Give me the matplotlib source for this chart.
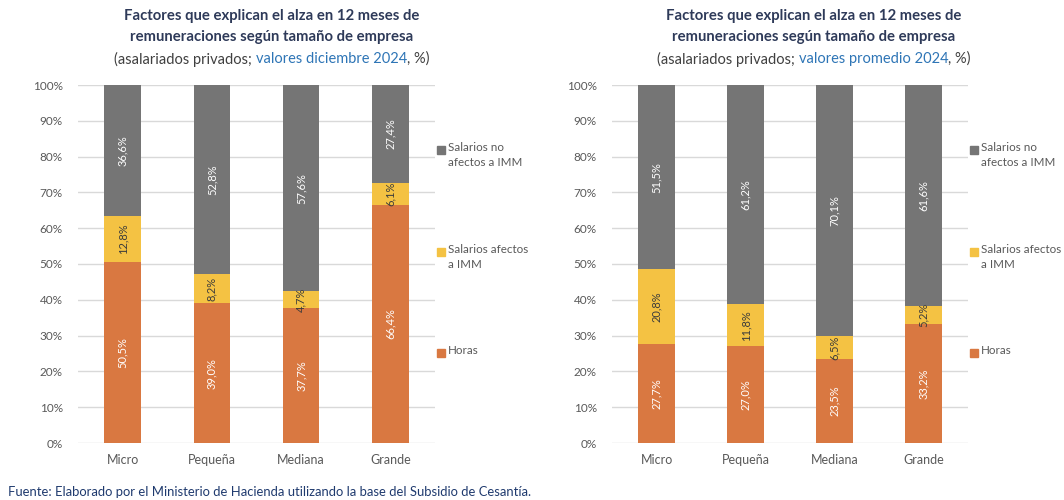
import numpy as np
import matplotlib.pyplot as plt
from matplotlib.patches import Rectangle

# datos
categorias = ['Micro', 'Pequeña', 'Mediana', 'Grande']
series = ['Horas', 'Salarios afectos\na IMM', 'Salarios no\nafectos a IMM']

horas_dic = [50.5, 39.0, 37.7, 66.4]
afectos_dic = [12.8, 8.2, 4.7, 6.1]
no_afectos_dic = [36.6, 52.8, 57.6, 27.4]

horas_prom = [27.7, 27.0, 23.5, 33.2]
afectos_prom = [20.8, 11.8, 6.5, 5.2]
no_afectos_prom = [51.5, 61.2, 70.1, 61.6]

yticks = [0, 10, 20, 30, 40, 50, 60, 70, 80, 90, 100]

colores = ['#D97841', '#F4C243', '#757575']
color_txt_lbl = ['white', '#3B3B3B', 'white']
gris = '#595959'
titulo_color = '#2E3A59'
azul = '#2E75B6'

plt.rcParams['font.family'] = ['Lato', 'DejaVu Sans']

fig = plt.figure(figsize=(10.64, 5.0), dpi=100)


def px(x, y):
    return x / 1064, 1 - y / 500


def barras(ax, datos):
    datos = np.array(datos, dtype=float)
    total = datos.sum(axis=0)
    pct = datos / total * 100
    x = np.arange(len(categorias))
    base = np.zeros(len(categorias))
    for i in range(len(datos)):
        ax.bar(x, pct[i], bottom=base, width=0.41, color=colores[i], zorder=3)
        for j in range(len(x)):
            lbl = f'{datos[i][j]:.1f}%'.replace('.', ',')
            ax.text(x[j], base[j] + pct[i][j] / 2, lbl, rotation=90, ha='center', va='center',
                    fontsize=8, color=color_txt_lbl[i], zorder=4)
        base += pct[i]
    ax.set_xlim(-0.5, 3.5)
    ax.set_ylim(0, 100)
    ax.set_xticks(x)
    ax.set_xticklabels(categorias, fontsize=9, color=gris)
    ax.set_yticks(yticks)
    ax.set_yticklabels([f'{v}%' for v in yticks], fontsize=8.5, color=gris)
    ax.tick_params(length=0)
    ax.tick_params(axis='y', pad=11)
    ax.tick_params(axis='x', pad=8)
    ax.grid(axis='y', color='#D9D9D9', linewidth=1, zorder=0)
    for s in ax.spines.values():
        s.set_visible(False)


def leyenda(x0):
    ys = [353, 252, 150]
    for i in range(3):
        xf, yf = px(x0, ys[i] + 4)
        fig.patches.append(Rectangle((xf, yf), 8 / 1064, 8 / 500, transform=fig.transFigure,
                                     color=colores[i]))
        tx, ty = px(x0 + 11, ys[i] - 8)
        fig.text(tx, ty, series[i], fontsize=8.4, color=gris, va='top', ha='left', linespacing=1.5)


def titulo(cx, resaltado):
    fig.text(*px(cx, 9), 'Factores que explican el alza en 12 meses de\nremuneraciones según tamaño de empresa',
             ha='center', va='top', fontsize=10.7, fontweight='bold', color=titulo_color, linespacing=1.6)
    partes = ['(asalariados privados; ', resaltado, ', %)']
    cols = ['#404040', azul, '#404040']
    txts = [fig.text(0, px(0, 59)[1], p, fontsize=10.5, color=c, va='center', ha='left') for p, c in zip(partes, cols)]
    r = fig.canvas.get_renderer()
    anchos = [t.get_window_extent(r).width for t in txts]
    x = cx - sum(anchos) / 2
    for t, w in zip(txts, anchos):
        t.set_x(x / 1064)
        x += w


ax1 = fig.add_axes([78 / 1064, 57 / 500, 357 / 1064, 358 / 500])
barras(ax1, [horas_dic, afectos_dic, no_afectos_dic])
ax2 = fig.add_axes([612 / 1064, 57 / 500, 356 / 1064, 358 / 500])
barras(ax2, [horas_prom, afectos_prom, no_afectos_prom])

titulo(272, 'valores diciembre 2024')
titulo(814, 'valores promedio 2024')
leyenda(437)
leyenda(970)

fig.text(*px(8, 492), 'Fuente: Elaborado por el Ministerio de Hacienda utilizando la base del Subsidio de Cesantía.',
         fontsize=9.4, color='#1F3A6E', ha='left', va='center')

fig.savefig('out.png', dpi=100)
